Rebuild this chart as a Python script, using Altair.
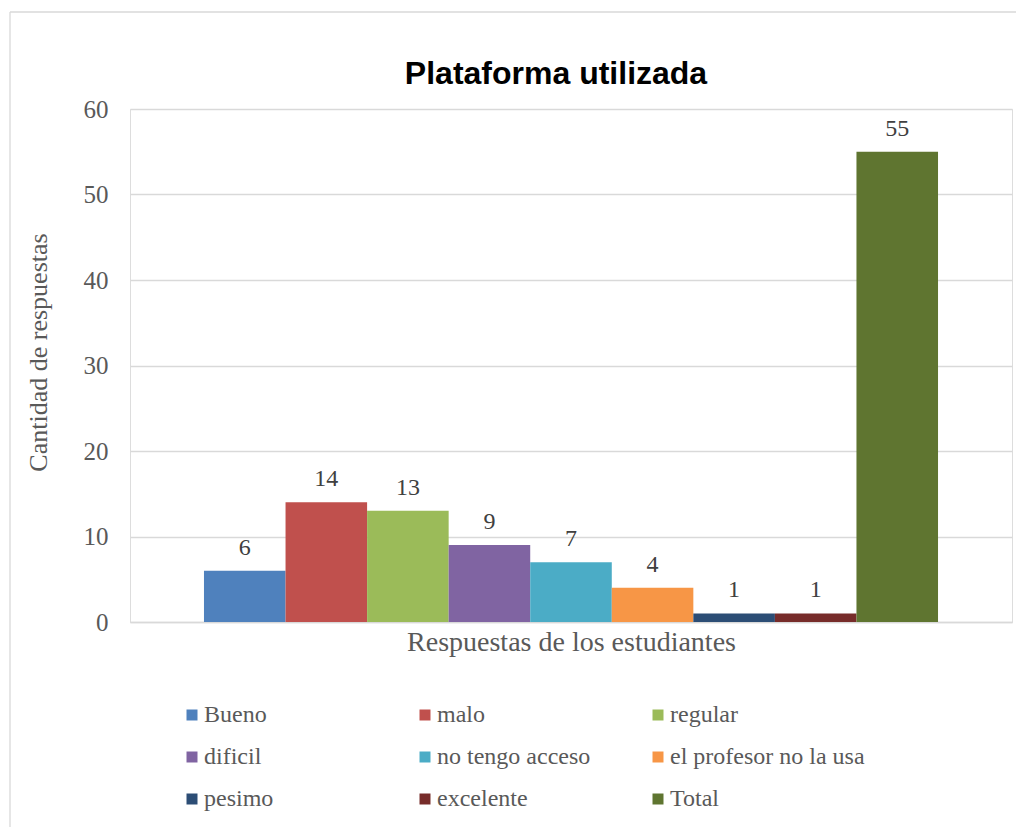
import altair as alt
import pandas as pd

categories = ["Bueno", "malo", "regular", "dificil", "no tengo acceso",
              "el profesor no la usa", "pesimo", "excelente", "Total"]
values = [6, 14, 13, 9, 7, 4, 1, 1, 55]
colors = ["#4F81BD", "#C0504D", "#9BBB59", "#8064A2", "#4BACC6",
          "#F79646", "#2C4D75", "#772C2A", "#5F7530"]
y_ticks = [0, 10, 20, 30, 40, 50, 60]
chart_title = "Plataforma utilizada"

df = pd.DataFrame({"cat": categories, "val": values})

SERIF = "Liberation Serif"
GRAY = "#595959"

x_enc = alt.X(
    "cat:N", sort=categories,
    scale=alt.Scale(paddingInner=0, paddingOuter=0.907),
    axis=alt.Axis(labels=False, ticks=False, domain=True, domainColor="#D9D9D9",
                  domainWidth=1.5, title="Respuestas de los estudiantes",
                  titleFont=SERIF, titleFontSize=28, titleColor=GRAY,
                  titleFontWeight="normal", titlePadding=6),
)
y_enc = alt.Y(
    "val:Q", scale=alt.Scale(domain=[0, 60], nice=False),
    axis=alt.Axis(values=y_ticks, ticks=False, domain=False, grid=True,
                  gridColor="#D9D9D9", gridWidth=1.3, labelFont=SERIF,
                  labelFontSize=25, labelColor=GRAY, labelPadding=22,
                  title="Cantidad de respuestas", titleFont=SERIF,
                  titleFontSize=26, titleColor=GRAY, titleFontWeight="normal",
                  titleX=-92, titleY=243, titleBaseline="middle", titleAngle=270),
)

bars = alt.Chart(df).mark_bar().encode(
    x=x_enc,
    y=y_enc,
    color=alt.Color(
        "cat:N", sort=categories,
        scale=alt.Scale(domain=categories, range=colors),
        legend=alt.Legend(
            title=None, orient="none", legendX=50, legendY=594,
            direction="horizontal",
            columns=3, gridAlign="all", columnPadding=14, rowPadding=18,
            symbolType="square", symbolSize=121, symbolStrokeWidth=0,
            symbolOpacity=1, labelFont=SERIF, labelFontSize=24,
            labelColor=GRAY, labelOffset=0, padding=0, labelLimit=400,
        ),
    ),
)

labels = alt.Chart(df).mark_text(
    font=SERIF, fontSize=24, color="#404040", baseline="alphabetic", dy=-16
).encode(
    x=alt.X("cat:N", sort=categories),
    y=alt.Y("val:Q"),
    text=alt.Text("val:Q"),
)

frame = pd.DataFrame({"k": [0]})
left_rule = alt.Chart(frame).mark_rule(color="#D9D9D9", strokeWidth=1.3).encode(
    x=alt.value(-120), y=alt.value(-97), y2=alt.value(718)
)
top_rule = alt.Chart(frame).mark_rule(color="#D9D9D9", strokeWidth=1.3).encode(
    x=alt.value(-120), x2=alt.value(886), y=alt.value(-97)
)
title_text = alt.Chart(frame).mark_text(
    font="Liberation Sans", fontSize=32, fontWeight="bold", color="#000000",
    align="center", baseline="alphabetic"
).encode(x=alt.value(426), y=alt.value(-25), text=alt.value(chart_title))

chart = alt.layer(left_rule, top_rule, title_text, bars, labels).properties(
    width=882, height=513,
    autosize=alt.AutoSizeParams(type="none"),
    padding={"left": 122, "top": 101, "right": 4, "bottom": 205},
).configure_view(stroke=None).configure(background="white")

chart.save("out.html", embed_options={"renderer": "svg", "actions": False})
